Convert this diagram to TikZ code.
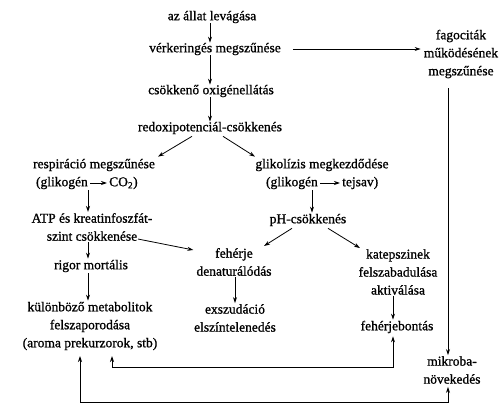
\documentclass[tikz,border=0pt]{standalone}
\usepackage{fontspec}
\setmainfont{Liberation Serif}
\newfontfamily\heavy[BoldFont={Liberation Serif}, BoldFeatures={FakeBold=1.0}]{Liberation Serif}
\usetikzlibrary{arrows.meta}
\tikzset{
  lbl/.style={align=center, inner sep=0pt, font=\heavy\bfseries\fontsize{13.5}{18}\selectfont},
  arr/.style={line width=0.8pt, -{Stealth[length=6pt,width=4pt]}},
  darr/.style={line width=0.8pt, {Stealth[length=6pt,width=4pt]}-{Stealth[length=6pt,width=4pt]}},
  ln/.style={line width=0.8pt}
}
\begin{document}
\begin{tikzpicture}[x=1pt,y=-1pt]
\useasboundingbox (0,0) rectangle (504,420);
% nodes
\node[lbl] (lev) at (212,17) {az állat levágása};
\node[lbl] (ver) at (215,49) {vérkeringés megszűnése};
\node[lbl] (oxi) at (211,91) {csökkenő oxigénellátás};
\node[lbl] (red) at (210,128) {redoxipotenciál-csökkenés};
\node[lbl] (fag) at (461,54) {fagociták\\működésének\\megszűnése};
\node[lbl] (resp) at (94,165) {respiráció megszűnése};
\node[lbl, anchor=east] (g1) at (88,183) {(glikogén};
\node[lbl, anchor=west] (c1) at (109,183) {CO\textsubscript{2})};
\node[lbl] (glik) at (322,165) {glikolízis megkezdődése};
\node[lbl, anchor=east] (g2) at (318,183) {(glikogén};
\node[lbl, anchor=west] (t2) at (342,183) {tejsav)};
\node[lbl] (atp) at (92,227) {ATP és kreatinfoszfát-\\szint csökkenése};
\node[lbl] (ph) at (308,220) {pH-csökkenés};
\node[lbl] (feh) at (234,262) {fehérje\\denaturálódás};
\node[lbl] (kat) at (398,272) {katepszinek\\felszabadulása\\aktiválása};
\node[lbl] (rig) at (91,266) {rigor mortális};
\node[lbl] (kul) at (90,326) {különböző metabolitok\\felszaporodása\\(aroma prekurzorok, stb)};
\node[lbl] (exs) at (235,318) {exszudáció\\elszíntelenedés};
\node[lbl] (bon) at (397,327) {fehérjebontás};
\node[lbl] (mik) at (452,370) {mikroba-\\növekedés};
% helper coordinates
\coordinate (xc) at (210,0);
\coordinate (xl) at (88,0);
\coordinate (xr) at (312,0);
\coordinate (xm) at (448,0);
\coordinate (xb) at (393,0);
\coordinate (xe) at (235,0);
\coordinate (ka) at (80,356);
\coordinate (kb) at (112,356);
\coordinate (y1) at (0,367);
\coordinate (y2) at (0,402);
% connectors
\draw[arr] (lev.south -| xc) -- (ver.north -| xc);
\draw[arr] (ver.south -| xc) -- (oxi.north -| xc);
\draw[arr] (oxi.south -| xc) -- (red.north -| xc);
\draw[arr] ([xshift=12pt]ver.east) -- ([xshift=-3pt]ver.east -| fag.west);
\draw[arr] ([yshift=-10pt]fag.south -| xm) -- ([yshift=1pt]mik.north -| xm);
\draw[arr] ([xshift=-18pt,yshift=-2pt]red.south) -- ([xshift=64pt,yshift=2pt]resp.north);
\draw[arr] ([xshift=13pt,yshift=-2pt]red.south) -- ([xshift=-67pt,yshift=2pt]glik.north);
\draw[arr] ([xshift=2pt]g1.east) -- ([xshift=-2pt]c1.west);
\draw[arr] ([xshift=2pt]g2.east) -- ([xshift=-2pt]t2.west);
\draw[arr] ([yshift=-1pt]g1.south -| xl) -- ([yshift=1pt]atp.north -| xl);
\draw[arr] ([yshift=-1pt]g2.south -| xr) -- ([yshift=1pt]ph.north -| xr);
\draw[arr] ([xshift=46pt,yshift=2pt]atp.south) -- ([xshift=-3pt,yshift=-2pt]feh.north west);
\draw[arr] ([yshift=-1pt]atp.south -| xl) -- ([yshift=1pt]rig.north -| xl);
\draw[arr] ([xshift=-16pt,yshift=-2pt]ph.south) -- ([xshift=30pt,yshift=2pt]feh.north);
\draw[arr] ([xshift=20pt,yshift=-2pt]ph.south) -- ([xshift=-38pt,yshift=1pt]kat.north);
\draw[arr] ([yshift=-1pt]rig.south -| xl) -- ([yshift=1pt]kul.north -| xl);
\draw[arr] ([yshift=-1pt]feh.south -| xe) -- ([yshift=1pt]exs.north -| xe);
\draw[arr] ([yshift=-1pt]kat.south -| xb) -- ([yshift=1pt]bon.north -| xb);
\draw[darr] (kb) |- (y1 -| xb) -- ([yshift=-3pt]bon.south -| xb);
\draw[darr] (ka) |- (y2 -| xm) -- ([yshift=-3pt]mik.south -| xm);
\end{tikzpicture}
\end{document}
